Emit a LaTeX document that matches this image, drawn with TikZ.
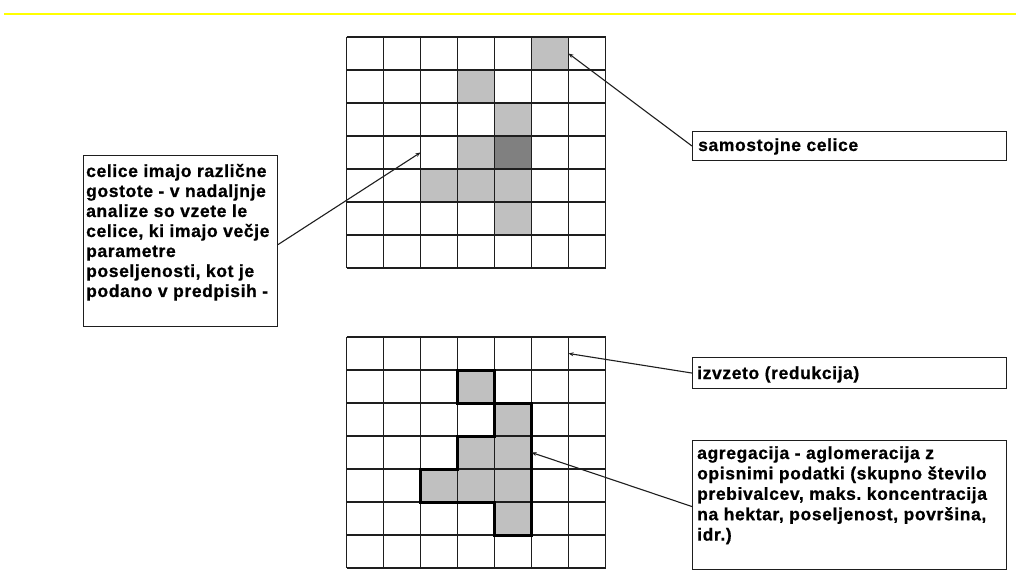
\documentclass[tikz,border=0pt]{standalone}
\usepackage{fontspec}
\setmainfont{Liberation Sans}
\newfontfamily\lblfont{Liberation Sans}[LetterSpace=3.5, BoldFeatures={FakeBold=0.8}]
\usetikzlibrary{arrows.meta}
\frenchspacing
\definecolor{hdr}{RGB}{255,255,0}
\definecolor{cellgray}{RGB}{192,192,192}
\definecolor{celldark}{RGB}{128,128,128}
\definecolor{linegray}{RGB}{30,30,30}
\tikzset{
  gridline/.style={draw=linegray, line width=1.3pt},
  cellfill/.style={fill=cellgray},
  darkfill/.style={fill=celldark},
  outline/.style={draw=black, line width=3pt, line join=miter},
  box/.style={draw=linegray, line width=1.1pt, rectangle, inner sep=0pt, fill=white},
  txt/.style={inner sep=0pt, font=\lblfont\bfseries\fontsize{17.5}{20}\selectfont\frenchspacing, text=black},
  conn/.style={draw=linegray, line width=1.1pt, -{Stealth[length=5pt,width=4pt]}},
}
\begin{document}
\begin{tikzpicture}[x=1pt,y=-1pt]
\useasboundingbox (0,0) rectangle (1016,585);
\fill[white] (0,0) rectangle (1016,585);
% header line
\draw[hdr, line width=1.6pt] (4,14) -- (1016,14);

% top grid
\begin{scope}[shift={(346.5,37)}, x=37pt, y=-33pt]
  \fill[cellfill] (5,0) rectangle (6,1);
  \fill[cellfill] (3,1) rectangle (4,2);
  \fill[cellfill] (4,2) rectangle (5,3);
  \fill[cellfill] (3,3) rectangle (4,4);
  \fill[darkfill] (4,3) rectangle (5,4);
  \fill[cellfill] (2,4) rectangle (5,5);
  \fill[cellfill] (4,5) rectangle (5,6);
  \foreach \k in {0,...,7} {
    \draw[gridline] (\k,0) -- (\k,7);
    \draw[gridline] (0,\k) -- (7,\k);
  }
  \coordinate (t1) at (6,0.5);
  \coordinate (t2) at (2,3.5);
\end{scope}

% bottom grid
\begin{scope}[shift={(346.5,337)}, x=37pt, y=-33pt]
  \fill[cellfill] (3,1) rectangle (4,2);
  \fill[cellfill] (4,2) -- (5,2) -- (5,6) -- (4,6) -- (4,5) -- (2,5) -- (2,4) -- (3,4) -- (3,3) -- (4,3) -- cycle;
  \foreach \k in {0,...,7} {
    \draw[gridline] (\k,0) -- (\k,7);
    \draw[gridline] (0,\k) -- (7,\k);
  }
  \draw[outline] (3,1) rectangle (4,2);
  \draw[outline] (4,2) -- (5,2) -- (5,6) -- (4,6) -- (4,5) -- (2,5) -- (2,4) -- (3,4) -- (3,3) -- (4,3) -- cycle;
  \coordinate (t3) at (6,0.5);
  \coordinate (t4) at (5,3.5);
\end{scope}

% left box
\node[box, anchor=north west, minimum width=194pt, minimum height=171pt] (lbox) at (83,155) {};
\node[txt, anchor=base west] (ltxt) at (86,177) {\parbox[t]{200pt}{\raggedright\frenchspacing\baselineskip=20pt
celice imajo različne\\
gostote - v nadaljnje\\
analize so vzete le\\
celice, ki imajo večje\\
parametre\\
poseljenosti, kot je\\
podano v predpisih -}};

% right boxes
\node[box, anchor=north west, minimum width=314pt, minimum height=29pt] (sbox) at (692,131) {};
\node[txt, anchor=base west] (stxt) at (698,151) {samostojne celice};

\node[box, anchor=north west, minimum width=314pt, minimum height=31pt] (ibox) at (692,357) {};
\node[txt, anchor=base west] (itxt) at (697,379) {izvzeto (redukcija)};

\node[box, anchor=north west, minimum width=314pt, minimum height=129pt] (abox) at (692,440) {};
\node[txt, anchor=base west] (atxt) at (697,459) {\parbox[t]{312pt}{\raggedright\frenchspacing\baselineskip=20.4pt
agregacija - aglomeracija z\\
opisnimi podatki (skupno število\\
prebivalcev, maks. koncentracija\\
na hektar, poseljenost, površina,\\
idr.)}};

% connectors
\draw[conn] (sbox.west) -- (t1);
\draw[conn] ([yshift=-3.5pt]lbox.east) -- (t2);
\draw[conn] (ibox.west) -- (t3);
\draw[conn] ([yshift=-1.5pt]abox.west) -- (t4);
\end{tikzpicture}
\end{document}
